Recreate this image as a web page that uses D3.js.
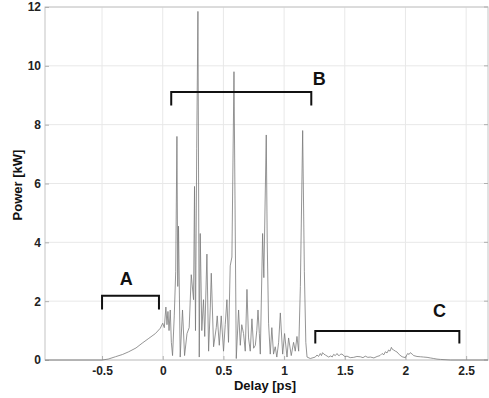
<!DOCTYPE html>
<html><head><meta charset="utf-8">
<script src="https://cdn.jsdelivr.net/npm/d3@7"></script>
<style>
body{margin:0;background:#fff;}
text{font-family:Arial,"Liberation Sans",sans-serif;font-weight:bold;}
</style></head>
<body><svg id="c" width="489" height="398"></svg>
<script>
// Delay [ps]
const delay = [-0.97,-0.5,-0.45,-0.39,-0.33,-0.28,-0.22,-0.17,-0.12,-0.06,-0.02,0.0,
0.013,0.026,0.035,0.043,0.052,0.062,0.071,0.081,0.095,0.107,0.117,0.124,0.130,0.144,0.163,0.180,0.200,0.218,0.235,0.254,0.262,0.270,0.280,0.290,0.301,0.309,0.322,0.336,0.346,0.364,0.378,0.392,0.400,0.419,0.441,0.449,0.466,0.482,0.501,0.515,0.529,0.542,0.556,0.570,0.587,0.606,0.625,0.639,0.651,0.666,0.680,0.694,0.707,0.721,0.735,0.749,0.763,0.775,0.785,0.796,0.804,0.823,0.833,0.853,0.861,0.872,0.886,0.899,0.913,0.927,0.940,0.955,0.969,0.988,1.004,1.024,1.037,1.059,1.078,1.092,1.106,1.120,1.134,1.153,1.167,1.179,1.189,1.216,1.257,
1.271,1.284,1.298,1.308,1.317,1.328,1.340,1.367,1.385,1.396,1.408,1.422,1.436,1.446,1.455,1.466,1.477,1.500,1.519,1.545,1.573,1.600,1.628,1.650,1.669,1.690,1.711,1.740,1.766,1.790,1.807,1.822,1.834,1.848,1.861,1.873,1.884,1.893,1.903,1.917,1.931,1.950,1.972,1.999,2.018,2.030,2.040,2.055,2.068,2.095,2.123,2.150,2.178,2.205,2.233,2.260,2.288,2.370,2.68];
// Power [kW]
const power = [0,0,0.03,0.11,0.19,0.28,0.41,0.57,0.72,0.90,1.08,1.25,
1.1,1.8,1.2,1.65,1.0,1.7,0.6,0.15,1.5,3.0,7.6,2.5,4.55,0.1,1.7,0.15,0.9,1.1,2.9,2.05,5.9,1.0,7.2,11.85,0.1,4.3,1.0,2.05,0.8,3.6,0.3,1.8,2.95,0.45,1.1,1.5,0.5,1.5,0.3,1.2,2.05,0.6,3.2,3.5,9.8,0.05,1.7,0.5,1.2,0.9,0.3,2.4,0.75,0.3,1.4,0.4,0.5,1.0,1.7,0.9,0.2,4.3,2.8,7.65,4.0,1.25,0.2,1.1,0.2,0.45,0.1,0.6,1.6,0.2,0.9,0.1,0.75,0.15,0.6,0.3,0.8,0.3,2.5,7.8,3.0,0.6,0.1,0.05,0.1,
0.17,0.12,0.22,0.15,0.25,0.2,0.17,0.1,0.14,0.1,0.19,0.15,0.22,0.16,0.15,0.2,0.2,0.12,0.13,0.08,0.09,0.12,0.11,0.08,0.13,0.09,0.1,0.07,0.12,0.15,0.22,0.18,0.28,0.24,0.34,0.3,0.43,0.36,0.34,0.3,0.27,0.18,0.11,0.08,0.22,0.19,0.25,0.2,0.15,0.12,0.11,0.1,0.09,0.07,0.05,0.03,0.02,0,0];
const xTicks = [-0.5,0,0.5,1,1.5,2,2.5];
const yTicks = [0,2,4,6,8,10,12];
const brackets = [
 {label:"A", x1:-0.5, x2:-0.031, y:2.18, yEnd:1.72, lx:-0.30, ly:2.55},
 {label:"B", x1:0.070, x2:1.224, y:9.11, yEnd:8.65, lx:1.29, ly:9.35},
 {label:"C", x1:1.257, x2:2.444, y:0.99, yEnd:0.56, lx:2.28, ly:1.47}
];

const W=489,H=398, m={l:45,t:7,r:1,b:38};
const svg=d3.select("#c");
const x=d3.scaleLinear().domain([-0.97,2.68]).range([m.l,W-m.r]);
const y=d3.scaleLinear().domain([0,12]).range([H-m.b,m.t]);

// grid
svg.append("g").selectAll("line").data(xTicks).join("line")
 .attr("x1",d=>x(d)).attr("x2",d=>x(d)).attr("y1",y(0)).attr("y2",y(12))
 .attr("stroke","#e8e8e8").attr("stroke-width",1);
svg.append("g").selectAll("line").data(yTicks).join("line")
 .attr("x1",x.range()[0]).attr("x2",x.range()[1]).attr("y1",d=>y(d)).attr("y2",d=>y(d))
 .attr("stroke","#e8e8e8").attr("stroke-width",1);

// frame
svg.append("rect").attr("x",x.range()[0]).attr("y",y(12))
 .attr("width",x.range()[1]-x.range()[0]).attr("height",y(0)-y(12))
 .attr("fill","none").attr("stroke","#c4c4c4").attr("stroke-width",1);

// axes
const xa=svg.append("g").attr("transform",`translate(0,${y(0)})`)
 .call(d3.axisBottom(x).tickValues(xTicks).tickSize(-4).tickPadding(6));
const ya=svg.append("g").attr("transform",`translate(${x.range()[0]},0)`)
 .call(d3.axisLeft(y).tickValues(yTicks).tickSize(-4).tickPadding(4));
[xa,ya].forEach(a=>{a.select(".domain").remove();
 a.selectAll(".tick line").attr("stroke","#b0b0b0");
 a.selectAll("text").attr("font-size",12).attr("fill","#222").attr("font-family","Arial, 'Liberation Sans', sans-serif").attr("font-weight","bold");});
xa.selectAll("text").text(d=>d===0?"0":String(d));
// right-side ticks
svg.append("g").selectAll("line").data(yTicks).join("line")
 .attr("x1",x.range()[1]-4).attr("x2",x.range()[1]).attr("y1",d=>y(d)).attr("y2",d=>y(d))
 .attr("stroke","#b0b0b0");

// signal
const data=delay.map((d,i)=>[d,power[i]]);
svg.append("path").datum(data)
 .attr("d",d3.line().x(d=>x(d[0])).y(d=>y(d[1])))
 .attr("fill","none").attr("stroke","#7a7a7a").attr("stroke-width",0.8).attr("stroke-linejoin","round");

// brackets
brackets.forEach(b=>{
 svg.append("path")
  .attr("d",`M${x(b.x1)},${y(b.yEnd)}V${y(b.y)}H${x(b.x2)}V${y(b.yEnd)}`)
  .attr("fill","none").attr("stroke","#111").attr("stroke-width",2);
 svg.append("text").attr("x",x(b.lx)).attr("y",y(b.ly)).attr("text-anchor","middle")
  .attr("font-size",18).attr("fill","#111").text(b.label);
});

// axis titles
svg.append("text").attr("x",265).attr("y",390).attr("text-anchor","middle")
 .attr("font-size",13).attr("fill","#111").text("Delay [ps]");
svg.append("text").attr("transform",`translate(22,${185}) rotate(-90)`).attr("text-anchor","middle")
 .attr("font-size",13).attr("fill","#111").text("Power [kW]");
</script></body></html>
